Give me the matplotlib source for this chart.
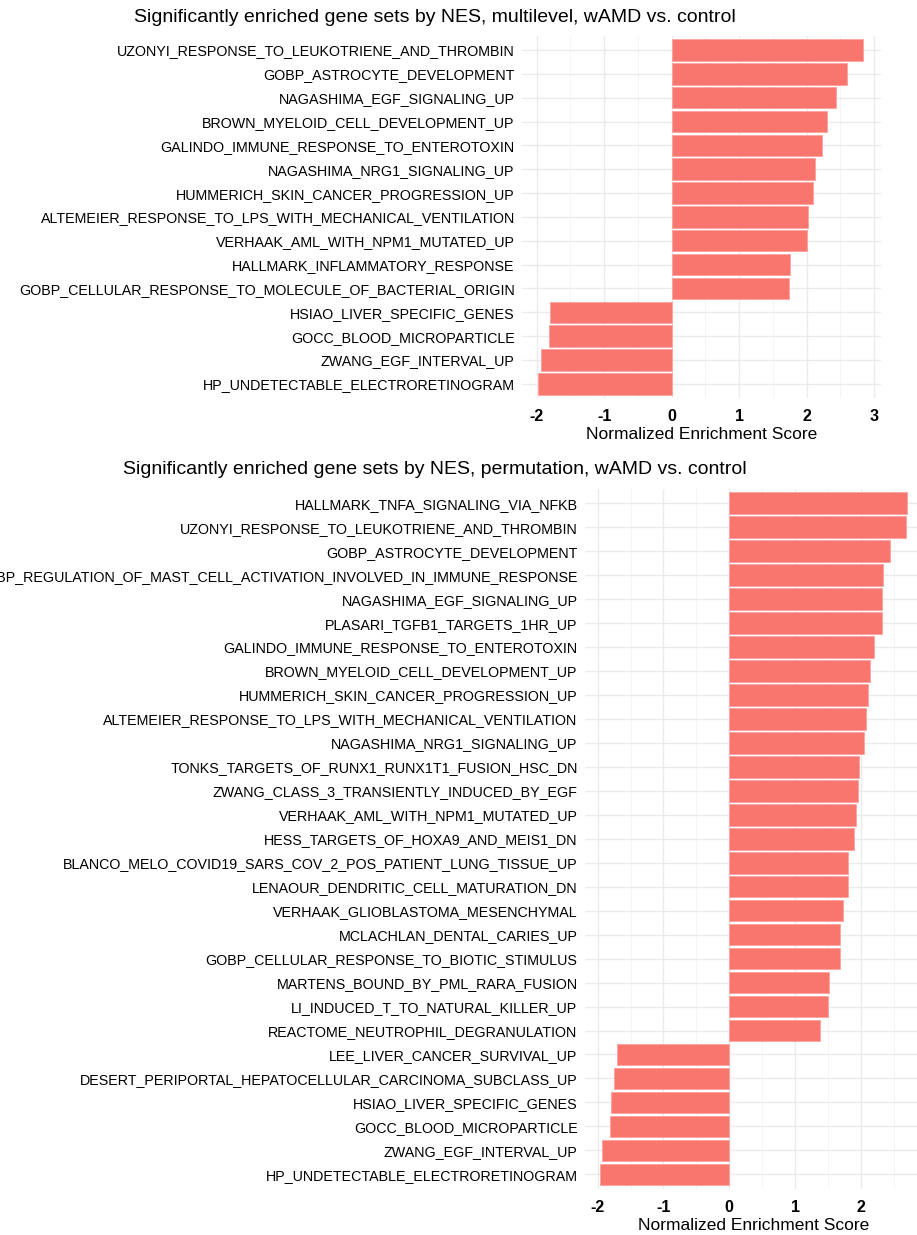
import matplotlib
matplotlib.use("Agg")
import matplotlib.pyplot as plt
from matplotlib.ticker import MultipleLocator

plt.rcParams['font.family'] = ['Liberation Sans', 'DejaVu Sans']
plt.rcParams['axes.unicode_minus'] = False

# multilevel panel, top to bottom
top_sets = [
    "UZONYI_RESPONSE_TO_LEUKOTRIENE_AND_THROMBIN",
    "GOBP_ASTROCYTE_DEVELOPMENT",
    "NAGASHIMA_EGF_SIGNALING_UP",
    "BROWN_MYELOID_CELL_DEVELOPMENT_UP",
    "GALINDO_IMMUNE_RESPONSE_TO_ENTEROTOXIN",
    "NAGASHIMA_NRG1_SIGNALING_UP",
    "HUMMERICH_SKIN_CANCER_PROGRESSION_UP",
    "ALTEMEIER_RESPONSE_TO_LPS_WITH_MECHANICAL_VENTILATION",
    "VERHAAK_AML_WITH_NPM1_MUTATED_UP",
    "HALLMARK_INFLAMMATORY_RESPONSE",
    "GOBP_CELLULAR_RESPONSE_TO_MOLECULE_OF_BACTERIAL_ORIGIN",
    "HSIAO_LIVER_SPECIFIC_GENES",
    "GOCC_BLOOD_MICROPARTICLE",
    "ZWANG_EGF_INTERVAL_UP",
    "HP_UNDETECTABLE_ELECTRORETINOGRAM",
]
top_nes = [2.84, 2.60, 2.43, 2.30, 2.22, 2.13, 2.09, 2.02, 2.00, 1.75, 1.74,
           -1.80, -1.82, -1.93, -1.98]

# permutation panel, top to bottom
bot_sets = [
    "HALLMARK_TNFA_SIGNALING_VIA_NFKB",
    "UZONYI_RESPONSE_TO_LEUKOTRIENE_AND_THROMBIN",
    "GOBP_ASTROCYTE_DEVELOPMENT",
    "GOBP_REGULATION_OF_MAST_CELL_ACTIVATION_INVOLVED_IN_IMMUNE_RESPONSE",
    "NAGASHIMA_EGF_SIGNALING_UP",
    "PLASARI_TGFB1_TARGETS_1HR_UP",
    "GALINDO_IMMUNE_RESPONSE_TO_ENTEROTOXIN",
    "BROWN_MYELOID_CELL_DEVELOPMENT_UP",
    "HUMMERICH_SKIN_CANCER_PROGRESSION_UP",
    "ALTEMEIER_RESPONSE_TO_LPS_WITH_MECHANICAL_VENTILATION",
    "NAGASHIMA_NRG1_SIGNALING_UP",
    "TONKS_TARGETS_OF_RUNX1_RUNX1T1_FUSION_HSC_DN",
    "ZWANG_CLASS_3_TRANSIENTLY_INDUCED_BY_EGF",
    "VERHAAK_AML_WITH_NPM1_MUTATED_UP",
    "HESS_TARGETS_OF_HOXA9_AND_MEIS1_DN",
    "BLANCO_MELO_COVID19_SARS_COV_2_POS_PATIENT_LUNG_TISSUE_UP",
    "LENAOUR_DENDRITIC_CELL_MATURATION_DN",
    "VERHAAK_GLIOBLASTOMA_MESENCHYMAL",
    "MCLACHLAN_DENTAL_CARIES_UP",
    "GOBP_CELLULAR_RESPONSE_TO_BIOTIC_STIMULUS",
    "MARTENS_BOUND_BY_PML_RARA_FUSION",
    "LI_INDUCED_T_TO_NATURAL_KILLER_UP",
    "REACTOME_NEUTROPHIL_DEGRANULATION",
    "LEE_LIVER_CANCER_SURVIVAL_UP",
    "DESERT_PERIPORTAL_HEPATOCELLULAR_CARCINOMA_SUBCLASS_UP",
    "HSIAO_LIVER_SPECIFIC_GENES",
    "GOCC_BLOOD_MICROPARTICLE",
    "ZWANG_EGF_INTERVAL_UP",
    "HP_UNDETECTABLE_ELECTRORETINOGRAM",
]
bot_nes = [2.70, 2.69, 2.45, 2.33, 2.32, 2.32, 2.20, 2.14, 2.11, 2.08, 2.05,
           1.98, 1.95, 1.92, 1.90, 1.81, 1.81, 1.73, 1.68, 1.68, 1.51, 1.50,
           1.38, -1.70, -1.75, -1.79, -1.82, -1.94, -1.97]

W, H = 917, 1235
fig = plt.figure(figsize=(W / 100, H / 100), dpi=100)


def add_panel(left, right, top, bottom, sets, nes, title, title_y, xlim):
    ax = fig.add_axes([left / W, 1 - bottom / H, (right - left) / W, (bottom - top) / H])
    ypos = list(range(len(sets)))
    ax.barh(ypos, nes, height=0.9, color='#F8766D', edgecolor='#FBA39C',
            linewidth=0.6, zorder=2)
    ax.set_yticks(ypos)
    ax.set_yticklabels(sets, fontsize=10.3)
    ax.set_ylim(len(sets) - 0.4, -0.6)
    ax.set_xlim(*xlim)
    ax.xaxis.set_major_locator(MultipleLocator(1))
    ax.xaxis.set_minor_locator(MultipleLocator(0.5))
    ax.grid(True, which='major', color='#EBEBEB', linewidth=1.0, zorder=0)
    ax.grid(True, which='minor', axis='x', color='#F3F3F3', linewidth=0.6, zorder=0)
    ax.set_axisbelow(True)
    for s in ax.spines.values():
        s.set_visible(False)
    ax.tick_params(which='both', length=0, pad=5, labelcolor='black')
    ax.tick_params(axis='x', labelsize=11.5, pad=8)
    for lab in ax.get_xticklabels():
        lab.set_fontweight('bold')
    ax.set_xlabel("Normalized Enrichment Score", fontsize=12.5, labelpad=2)
    fig.text(435 / W, 1 - title_y / H, title, fontsize=14, ha='center', va='center')
    return ax


add_panel(521.7, 881, 35.7, 398.1, top_sets, top_nes,
          "Significantly enriched gene sets by NES, multilevel, wAMD vs. control",
          18, (-2.22, 3.10))
add_panel(584.5, 922, 488.8, 1188.7, bot_sets, bot_nes,
          "Significantly enriched gene sets by NES, permutation, wAMD vs. control",
          470, (-2.20, 2.93))

fig.savefig("out.png", dpi=100, facecolor='white')
